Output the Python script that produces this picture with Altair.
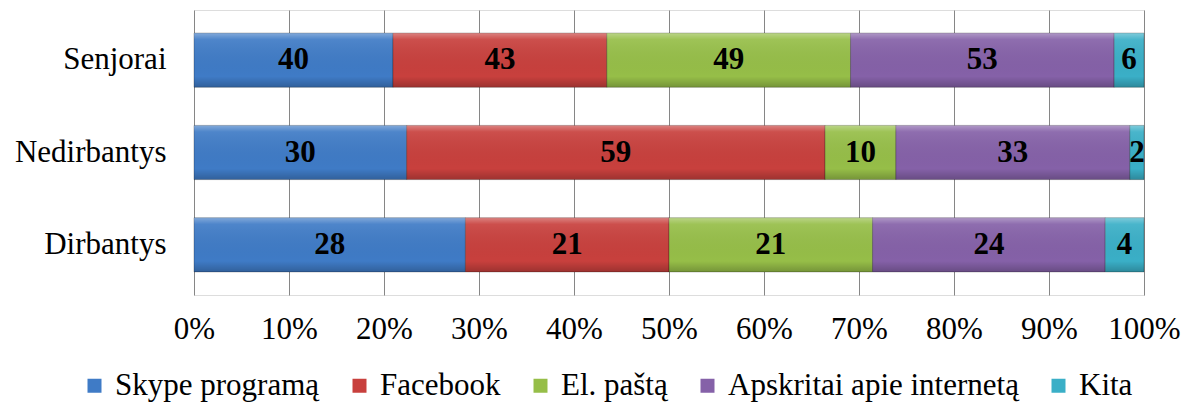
import altair as alt
import pandas as pd

categories = ["Senjorai", "Nedirbantys", "Dirbantys"]
series = ["Skype programą", "Facebook", "El. paštą", "Apskritai apie internetą", "Kita"]
skype = [40, 30, 28]
facebook = [43, 59, 21]
el_pastas = [49, 10, 21]
apskritai = [53, 33, 24]
kita = [6, 2, 4]
colors = ["#3F7BC6", "#C8403D", "#96BE48", "#8561A8", "#3AAFC7"]
tick_values = [0, 0.1, 0.2, 0.3, 0.4, 0.5, 0.6, 0.7, 0.8, 0.9, 1.0]

rows = []
for si, (name, vals) in enumerate(zip(series, [skype, facebook, el_pastas, apskritai, kita])):
    for c, v in zip(categories, vals):
        rows.append({"cat": c, "series": name, "order": si, "value": v})
df = pd.DataFrame(rows)

FONT = "Times New Roman, Liberation Serif, serif"
FS = 31

base = alt.Chart(df).transform_stack(
    stack="value", as_=["v0", "v1"], groupby=["cat"],
    sort=[alt.SortField("order", order="ascending")], offset="normalize"
).transform_calculate(mid="(datum.v0 + datum.v1) / 2")

y_enc = alt.Y("cat:N", sort=categories,
              scale=alt.Scale(paddingInner=0.413, paddingOuter=0.25),
              axis=alt.Axis(title=None, domain=False, ticks=False, labelFont=FONT,
                            labelFontSize=FS, labelColor="#000000", labelPadding=28, grid=False))

bars = base.mark_bar(stroke="#00000040", strokeWidth=1).encode(
    x=alt.X("v0:Q", scale=alt.Scale(domain=[0, 1]),
            axis=alt.Axis(title=None, values=tick_values, format=".0%", domain=False, ticks=False,
                          grid=True, gridColor="#868686", gridWidth=1, labelFont=FONT,
                          labelFontSize=FS, labelColor="#000000", labelPadding=19,
                          labelFlush=False)),
    x2="v1:Q",
    y=y_enc,
    color=alt.Color("series:N", sort=series,
                    scale=alt.Scale(domain=series, range=colors),
                    legend=alt.Legend(title=None, orient="none", legendX=-115, legendY=360,
                                      direction="horizontal", symbolType="square",
                                      symbolSize=196, symbolStrokeWidth=0, labelFont=FONT,
                                      labelFontSize=FS, labelColor="#000000", columnPadding=24,
                                      labelLimit=0, symbolOffset=0, labelOffset=5)),
    order=alt.Order("order:Q"),
)

shade = base.mark_bar(
    fill={"gradient": "linear", "x1": 0, "y1": 0, "x2": 0, "y2": 1,
          "stops": [{"offset": 0, "color": "rgba(255,255,255,0.35)"},
                    {"offset": 0.12, "color": "rgba(255,255,255,0.08)"},
                    {"offset": 0.8, "color": "rgba(0,0,0,0)"},
                    {"offset": 1, "color": "rgba(0,0,0,0.22)"}]},
).encode(
    x=alt.X("v0:Q"),
    x2="v1:Q",
    y=alt.Y("cat:N", sort=categories),
)

texts = base.mark_text(font=FONT, fontSize=FS, fontWeight="bold", color="#000000").encode(
    x=alt.X("mid:Q"),
    y=alt.Y("cat:N", sort=categories),
    text=alt.Text("value:Q"),
)

chart = alt.layer(bars, shade, texts).properties(
    width=950, height=285,
    autosize=alt.AutoSizeParams(type="none"),
    padding={"left": 186, "top": 2, "right": 40, "bottom": 112},
).configure_view(stroke=None).configure(font=FONT)

chart.save("out.html", embed_options={"renderer": "svg", "actions": False})
